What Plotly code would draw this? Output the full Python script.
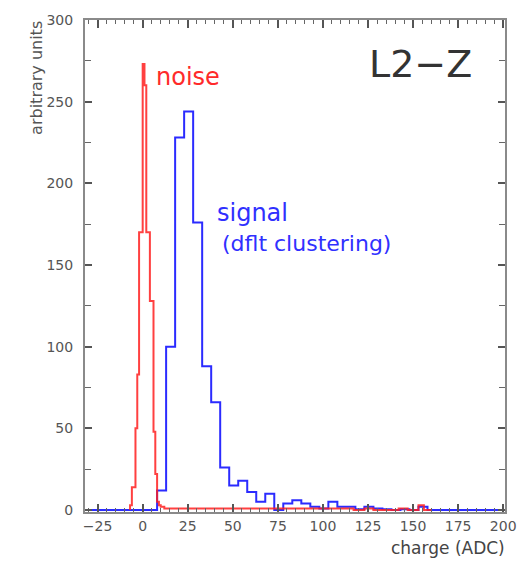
import plotly.graph_objects as go

# ---- data ----
# signal (blue): 5-ADC bins, first edge at -32
signal_first_edge = -32
signal_bin_width = 5
signal_counts = [0, 0, 0, 0, 0, 0, 0, 0,
                 12, 100, 228, 244, 176, 88, 66, 26, 15, 18, 11, 5, 10, 0,
                 4, 6, 4, 2, 1, 5, 2, 2, 0.5, 2, 1, 0.5, 0, 0.5, 0, 2, 0,
                 0, 0, 0, 0, 0, 0, 0, 0]

# noise (red): explicit bin edges
noise_edges = [-7, -6, -5, -4, -3, -2, -1, 0, 1, 2, 3, 4, 5, 6, 7, 8, 9, 10,
               12, 117, 123, 128, 142, 147, 153, 156, 160]
noise_counts = [3, 14, 14, 50, 83, 170, 170, 273, 260, 170, 170, 128, 128,
                48, 22, 5, 3, 2, 1, 0, 1, 0, 1, 0, 3, 0]

x_tick_vals = [-25, 0, 25, 50, 75, 100, 125, 150, 175, 200]
y_tick_vals = [0, 50, 100, 150, 200, 250, 300]

signal_edges = [signal_first_edge + signal_bin_width * i for i in range(len(signal_counts) + 1)]


def step_outline(edges, counts):
    xs = [edges[0]] + list(edges)
    ys = [0] + list(counts) + [0]
    return xs, ys


sx, sy = step_outline(signal_edges, signal_counts)
nx, ny = step_outline(noise_edges, noise_counts)

fig = go.Figure()
fig.add_trace(go.Scatter(x=sx, y=sy, mode="lines", line_shape="hv",
                         line=dict(color="#2b2bff", width=2), showlegend=False,
                         hoverinfo="skip"))
fig.add_trace(go.Scatter(x=nx, y=ny, mode="lines", line_shape="hv",
                         line=dict(color="rgba(255,30,30,0.85)", width=2), showlegend=False,
                         hoverinfo="skip"))

FONT = "DejaVu Sans"
axis_col = "#8a8a8a"
tick_font = dict(family=FONT, size=14, color="#555555")

fig.update_xaxes(range=[-32, 201], tickvals=x_tick_vals, showgrid=False, zeroline=False,
                 showline=True, linecolor=axis_col, linewidth=2, mirror="ticks",
                 ticks="inside", ticklen=8, tickwidth=1.5, tickcolor="#555555",
                 tickfont=tick_font,
                 minor=dict(dtick=5, tick0=0, ticks="inside", ticklen=4, tickwidth=1, tickcolor="#666666"))
fig.update_yaxes(range=[-1.2, 300], tickvals=y_tick_vals, showgrid=False, zeroline=False,
                 showline=True, linecolor=axis_col, linewidth=2, mirror="ticks",
                 ticks="inside", ticklen=7, tickwidth=1.5, tickcolor="#555555",
                 tickfont=tick_font, ticklabelstandoff=7,
                 minor=dict(dtick=25, tick0=0, ticks="inside", ticklen=6, tickwidth=1, tickcolor="#666666"))

annotations = [
    dict(text="noise", x=6.0, y=265, xref="x", yref="y", xanchor="left", yanchor="middle",
         showarrow=False, font=dict(family=FONT, size=24, color="#ff2a2a")),
    dict(text="signal", x=40, y=182, xref="x", yref="y", xanchor="left", yanchor="middle",
         showarrow=False, font=dict(family=FONT, size=24, color="#3030ff")),
    dict(text="(dflt clustering)", x=43, y=163, xref="x", yref="y", xanchor="left", yanchor="middle",
         showarrow=False, font=dict(family=FONT, size=22, color="#3030ff")),
    dict(text="L2\u2212Z", x=154, y=273, xref="x", yref="y", xanchor="center", yanchor="middle",
         showarrow=False, font=dict(family=FONT, size=38, color="#333333")),
    dict(text="arbitrary units", x=-0.117, y=1.002, xref="paper", yref="paper",
         xanchor="center", yanchor="top", textangle=-90, showarrow=False,
         font=dict(family=FONT, size=16, color="#555555")),
    dict(text="charge (ADC)", x=1.005, y=-0.074, xref="paper", yref="paper",
         xanchor="right", yanchor="middle", showarrow=False,
         font=dict(family=FONT, size=17, color="#444444")),
]

fig.update_layout(width=529, height=561, margin=dict(l=85, r=24, t=15, b=49),
                  paper_bgcolor="white", plot_bgcolor="white",
                  annotations=annotations, showlegend=False)

fig.write_html("out.html")
